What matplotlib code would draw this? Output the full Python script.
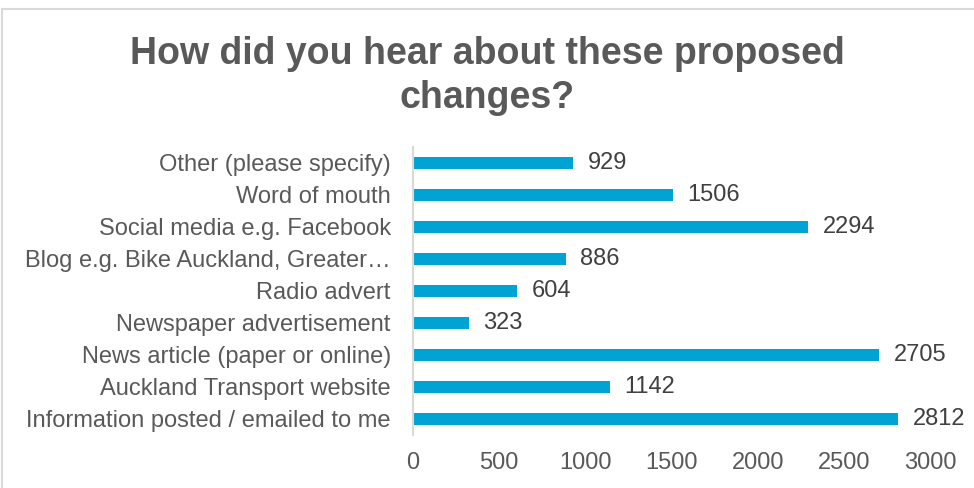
import matplotlib.pyplot as plt
from matplotlib.patches import Rectangle

plt.rcParams['font.family'] = ['Liberation Sans', 'DejaVu Sans']

categories = [
    "Information posted / emailed to me",
    "Auckland Transport website",
    "News article (paper or online)",
    "Newspaper advertisement",
    "Radio advert",
    "Blog e.g. Bike Auckland, Greater\u2026",
    "Social media e.g. Facebook",
    "Word of mouth",
    "Other (please specify)",
]
counts = [2812, 1142, 2705, 323, 604, 886, 2294, 1506, 929]
xticks = [0, 500, 1000, 1500, 2000, 2500, 3000]

fig = plt.figure(figsize=(9.74, 4.88), dpi=100)
ax = fig.add_axes([0.424, 0.1086, 0.531, 0.5904])

ypos = range(len(categories))
ax.barh(ypos, counts, height=0.38, color='#00a3d4')
for y, v in zip(ypos, counts):
    ax.text(v + 85, y, str(v), va='center', ha='left', fontsize=17, color='#404040')

ax.set_xlim(0, 3000)
ax.set_ylim(-0.5, len(categories) - 0.5)
ax.set_yticks(list(ypos))
ax.set_yticklabels(categories, fontsize=17, color='#595959')
ax.set_xticks(xticks)
ax.set_xticklabels([str(t) for t in xticks], fontsize=17, color='#595959')
ax.tick_params(axis='both', length=0)
ax.tick_params(axis='y', pad=16)
ax.tick_params(axis='x', pad=12)
for s in ['top', 'right', 'bottom']:
    ax.spines[s].set_visible(False)
ax.spines['left'].set_color('#d9d9d9')
ax.spines['left'].set_linewidth(1.5)

fig.text(0.5, 1 - 76 / 488, "How did you hear about these proposed\nchanges?",
         ha='center', va='center', fontsize=27, fontweight='bold',
         color='#595959', linespacing=1.3)

# chart border
fig.patches.append(Rectangle((2 / 974, -0.1), 1.2, 1 - 8.5 / 488 + 0.1,
                             transform=fig.transFigure, fill=False,
                             edgecolor='#d9d9d9', linewidth=1.5))

fig.savefig('out.png', dpi=100)
